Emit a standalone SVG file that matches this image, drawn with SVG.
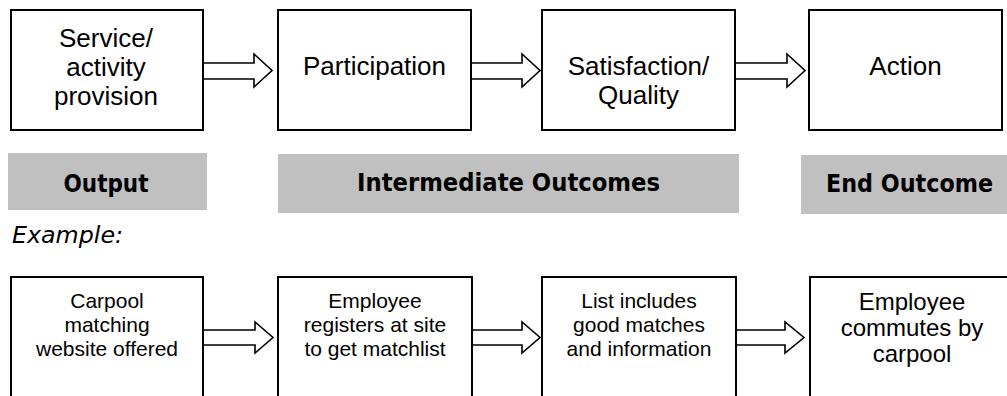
<svg xmlns="http://www.w3.org/2000/svg" width="1007" height="396" viewBox="0 0 1007 396">
<style>
.box{fill:#fff;stroke:#000;stroke-width:2}
.arr{fill:#fff;stroke:#000;stroke-width:1.6;stroke-linejoin:miter}
.t{font-family:"Liberation Sans",Arial,sans-serif;font-size:26px;fill:#000;text-anchor:middle}
.s{font-family:"Liberation Sans",Arial,sans-serif;font-size:21px;fill:#000;text-anchor:middle}
.m{font-family:"Liberation Sans",Arial,sans-serif;font-size:24px;fill:#000;text-anchor:middle}
.band{fill:#c0c0c0}
.bt{font-family:"Comic Sans MS","DejaVu Sans",sans-serif;font-weight:bold;font-size:24px;fill:#000;text-anchor:middle}
.ex{font-family:"Comic Sans MS","DejaVu Sans",sans-serif;font-style:italic;font-size:23px;fill:#000}
</style>
<rect width="1007" height="396" fill="#fff"/>
<g id="connectors">
<path class="arr" d="M203,63 H254 V54 L272,70.5 L254,87 V79 H203"/>
<path class="arr" d="M471,63 H522 V54 L540,70.5 L522,87 V79 H471"/>
<path class="arr" d="M735,63 H787 V54 L805,70.5 L787,87 V79 H735"/>
<path class="arr" d="M203,330 H255 V322 L273,337.5 L255,353 V345 H203"/>
<path class="arr" d="M472,330 H522 V322 L540,337.5 L522,353 V345 H472"/>
<path class="arr" d="M736,330 H785 V322 L804,337.5 L785,353 V345 H736"/>
</g>
<g id="n-service">
<rect class="box" x="11" y="10" width="192" height="120"/>
<text class="t" x="106" y="46.5">Service/</text>
<text class="t" x="106" y="75.5">activity</text>
<text class="t" x="106" y="104.5">provision</text>
</g>
<g id="n-participation">
<rect class="box" x="278" y="10" width="193" height="120"/>
<text class="t" x="374.5" y="75">Participation</text>
</g>
<g id="n-satisfaction">
<rect class="box" x="542" y="10" width="193" height="120"/>
<text class="t" x="638.5" y="75">Satisfaction/</text>
<text class="t" x="638.5" y="104">Quality</text>
</g>
<g id="n-action">
<rect class="box" x="809" y="10" width="193" height="120"/>
<text class="t" x="905.5" y="75">Action</text>
</g>
<g id="band-output">
<rect class="band" x="8" y="153" width="199" height="57"/>
<text class="bt" x="106" y="192" textLength="85" lengthAdjust="spacingAndGlyphs">Output</text>
</g>
<g id="band-intermediate">
<rect class="band" x="278" y="154" width="461" height="59"/>
<text class="bt" x="508.5" y="191" textLength="303" lengthAdjust="spacingAndGlyphs">Intermediate Outcomes</text>
</g>
<g id="band-end">
<rect class="band" x="801" y="155" width="220" height="59"/>
<text class="bt" x="909.5" y="192" textLength="167" lengthAdjust="spacingAndGlyphs">End Outcome</text>
</g>
<text class="ex" x="12" y="243" textLength="111" lengthAdjust="spacingAndGlyphs">Example:</text>
<g id="n-carpool">
<rect class="box" x="11" y="277" width="192" height="140"/>
<text class="s" x="107" y="308">Carpool</text>
<text class="s" x="107" y="332">matching</text>
<text class="s" x="107" y="356">website offered</text>
</g>
<g id="n-registers">
<rect class="box" x="278" y="277" width="194" height="140"/>
<text class="s" x="375" y="308">Employee</text>
<text class="s" x="375" y="332">registers at site</text>
<text class="s" x="375" y="356">to get matchlist</text>
</g>
<g id="n-list">
<rect class="box" x="542" y="277" width="194" height="140"/>
<text class="s" x="639" y="308">List includes</text>
<text class="s" x="639" y="332">good matches</text>
<text class="s" x="639" y="356">and information</text>
</g>
<g id="n-commutes">
<rect class="box" x="810" y="277" width="220" height="140"/>
<text class="m" x="912" y="310">Employee</text>
<text class="m" x="912" y="336">commutes by</text>
<text class="m" x="912" y="362">carpool</text>
</g>
</svg>
